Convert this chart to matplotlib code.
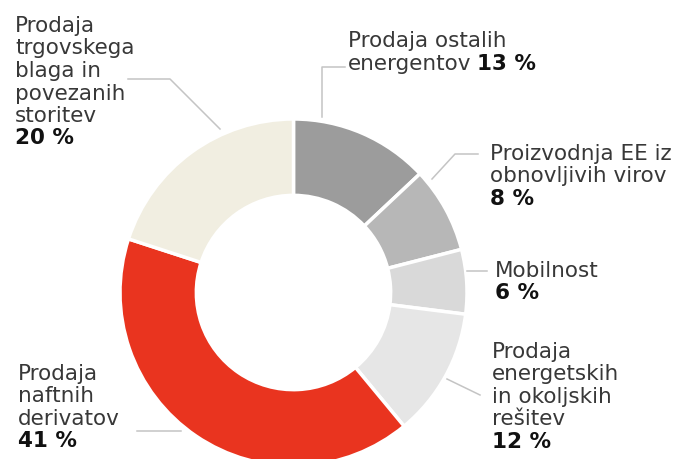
import matplotlib
matplotlib.use('Agg')
import matplotlib.pyplot as plt

# Segments, clockwise from 12 o'clock
labels = ['Prodaja ostalih energentov',
          'Proizvodnja EE iz obnovljivih virov',
          'Mobilnost',
          'Prodaja energetskih in okoljskih rešitev',
          'Prodaja naftnih derivatov',
          'Prodaja trgovskega blaga in povezanih storitev']
values = [13, 8, 6, 12, 41, 20]
colors = ['#9c9c9c', '#b7b7b7', '#d9d9d9', '#e6e6e6', '#e9341f', '#f1eee1']

# label text as shown, split by line; the last line ends with the bold share
label_lines = [
    ['Prodaja ostalih', 'energentov'],
    ['Proizvodnja EE iz', 'obnovljivih virov', ''],
    ['Mobilnost', ''],
    ['Prodaja', 'energetskih', 'in okoljskih', 'rešitev', ''],
    ['Prodaja', 'naftnih', 'derivatov', ''],
    ['Prodaja', 'trgovskega', 'blaga in', 'povezanih', 'storitev', ''],
]

W, H = 691, 460
fig = plt.figure(figsize=(W / 100, H / 100), dpi=100)
ax = fig.add_axes([0, 0, 1, 1])

cx, cy, r = 293.5, 293.5, 173.5
ax.pie(values, colors=colors, startangle=-90, counterclock=True,
       center=(cx, cy), radius=r,
       wedgeprops=dict(width=r * 0.44, edgecolor='white', linewidth=2.5))
ax.set_xlim(0, W)
ax.set_ylim(H, 0)
ax.set_aspect('equal')
ax.axis('off')

# text anchors (x, first baseline) in pixels
anchors = [(348, 47), (490, 160), (495, 277), (492, 358), (18, 380), (15, 32)]
pitch = 22.5
fs = 15.5
txt_col = '#383838'

fig.canvas.draw()
renderer = fig.canvas.get_renderer()
for lines, v, (x, y) in zip(label_lines, values, anchors):
    for i, line in enumerate(lines):
        yy = y + i * pitch
        xx = x
        if line:
            t = ax.text(x, yy, line, fontsize=fs, color=txt_col, va='baseline')
            if i == len(lines) - 1:
                xx = x + t.get_window_extent(renderer).width + 6
        if i == len(lines) - 1:
            ax.text(xx, yy, f'{v} %', fontsize=fs, color='#111111',
                    fontweight='bold', va='baseline')

# leader lines
lc = dict(color='#c4c4c4', lw=1.1)
ax.plot([345, 322, 322], [68, 68, 118], **lc)
ax.plot([478, 455, 432], [155, 155, 180], **lc)
ax.plot([467, 487], [272, 272], **lc)
ax.plot([447, 480], [380, 396], **lc)
ax.plot([137, 181], [432, 432], **lc)
ax.plot([128, 170, 220], [80, 80, 130], **lc)

fig.savefig('out.png', dpi=100)
